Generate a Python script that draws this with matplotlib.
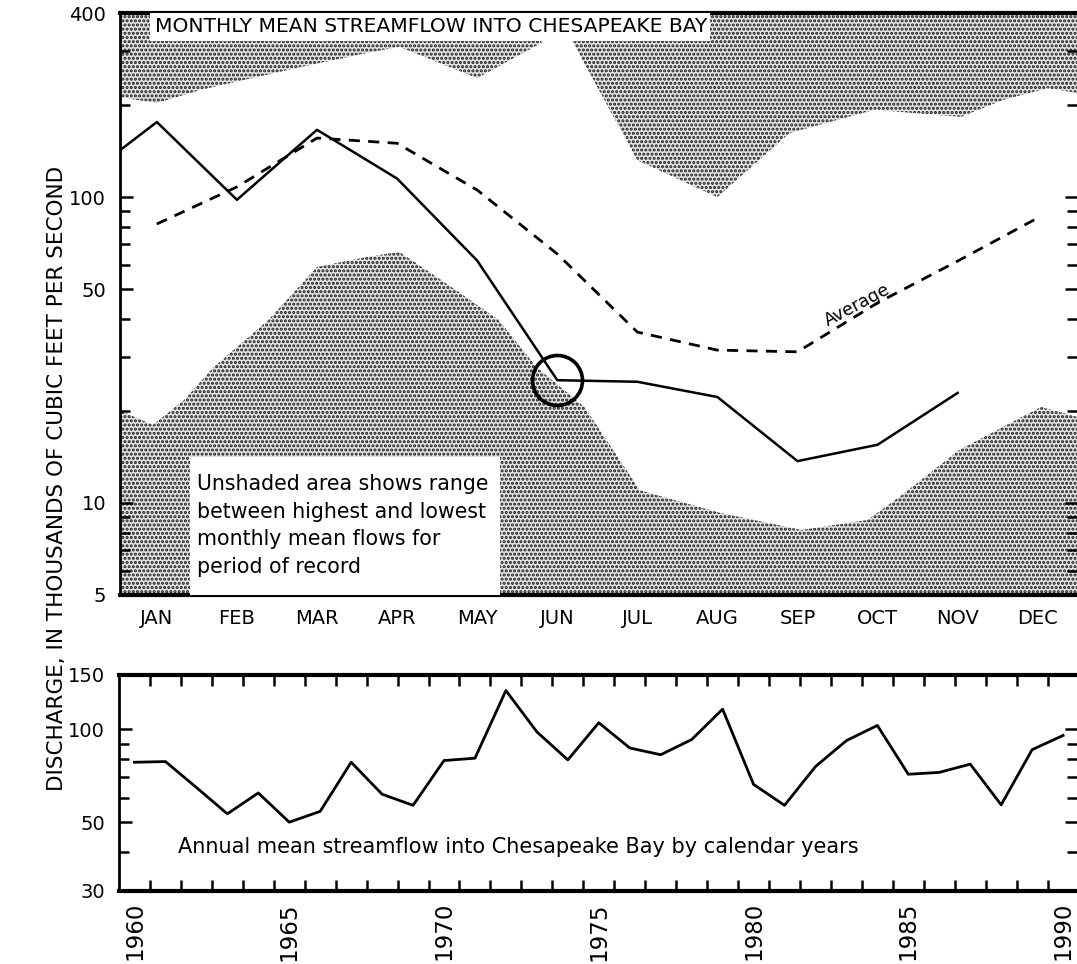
import numpy as np
import matplotlib
matplotlib.use("Agg")
import matplotlib.pyplot as plt
from matplotlib.patches import Rectangle
from matplotlib.ticker import LogLocator, FixedLocator, NullFormatter, FixedFormatter

# monthly data (month index 0 = JAN)
months = ['JAN', 'FEB', 'MAR', 'APR', 'MAY', 'JUN', 'JUL', 'AUG', 'SEP', 'OCT', 'NOV', 'DEC']
flow_x = [-0.45, 0, 1, 2, 3, 4, 5, 6, 7, 8, 9, 10]
flow_y = [143, 176, 98, 166, 115, 62, 25.2, 24.9, 22.2, 13.7, 15.5, 22.9]
avg_x = [0, 1, 2, 3, 4, 5, 6, 7, 8, 9, 10, 11]
avg_y = [81.7, 108, 156, 150, 105.5, 65.2, 36.2, 31.6, 31.2, 45.1, 61.8, 85.5]

# highest monthly mean flow (top of unshaded range)
hi_x = [-0.45, 0, 0.54, 1.79, 2.62, 3.03, 4.0, 4.8, 5.03, 5.2, 6.0, 7.0, 7.9, 8.96, 10.04, 10.57, 11.12, 11.5]
hi_y = [212, 203, 224, 266, 296, 310, 245, 319, 480, 319, 132, 100, 162, 193, 183, 208, 227, 219]
# lowest monthly mean flow (bottom of unshaded range)
lo_x = [-0.47, -0.05, 0.34, 0.71, 1.39, 2.0, 2.62, 3.03, 3.68, 4.27, 4.74, 5.34, 6.03, 7.04, 8.05, 8.88, 9.34, 10.02, 11.04, 11.5]
lo_y = [20.1, 18.0, 21.7, 27.8, 39.6, 59.1, 63.7, 66.2, 50.8, 39.6, 27.8, 20.6, 11.0, 9.27, 8.16, 8.8, 10.8, 14.9, 20.6, 19.1]

# annual mean streamflow
years = list(range(1960, 1991))
annual = [78.3, 78.7, 64.9, 53.3, 62.3, 50.1, 54.3, 78.3, 61.7, 56.8,
          79.3, 80.7, 133.6, 98.2, 79.7, 105.1, 87.1, 82.8, 92.7, 116.3,
          66.4, 56.8, 75.8, 92.0, 103, 71.6, 72.6, 77.2, 57.0, 86.0, 95.6]

plt.rcParams['font.family'] = 'DejaVu Sans'
plt.rcParams['hatch.linewidth'] = 1.5
plt.rcParams['hatch.color'] = '#1a1a1a'

fig = plt.figure(figsize=(10.77, 9.64), dpi=100)
W, H = 1077, 964
ax1 = fig.add_axes([120 / W, 1 - 595 / H, 957 / W, 582 / H])
ax2 = fig.add_axes([119 / W, 1 - 891 / H, 958 / W, 216 / H])

# ---- top panel
ax1.set_yscale('log')
ax1.set_ylim(5, 400)
ax1.set_xlim(-0.46, 11.49)

shade = dict(facecolor='#e4e4e4', edgecolor='#1a1a1a', hatch='....', linewidth=0, zorder=1)
ax1.fill_between(hi_x, hi_y, 1000, **shade)
ax1.fill_between(lo_x, 1, lo_y, **shade)

ax1.plot(flow_x, flow_y, color='black', lw=1.8, zorder=4)
ax1.plot(avg_x, avg_y, color='black', lw=2.0, ls=(0, (4, 3)), zorder=4)
ax1.plot([flow_x[6]], [flow_y[6]], 'o', ms=36, mfc='none', mec='black', mew=2.6, zorder=5)

ax1.text(8.75, 44.4, 'Average', rotation=28, ha='center', va='center', fontsize=12.5, zorder=6)

# title box
ax1.add_patch(Rectangle((0.031, 0.952), 0.585, 0.05, transform=ax1.transAxes,
                        facecolor='white', edgecolor='none', zorder=3))
ax1.text(0.037, 0.977, 'MONTHLY MEAN STREAMFLOW INTO CHESAPEAKE BAY', transform=ax1.transAxes,
         ha='left', va='center', fontsize=14.6, zorder=6)

# note box
ax1.add_patch(Rectangle((0.073, 0.0), 0.324, 0.237, transform=ax1.transAxes,
                        facecolor='white', edgecolor='none', zorder=3))
ax1.text(0.08, 0.208, 'Unshaded area shows range\nbetween highest and lowest\nmonthly mean flows for\nperiod of record',
         transform=ax1.transAxes, ha='left', va='top', fontsize=14.8, linespacing=1.48, zorder=6)

ax1.set_xticks(range(12))
ax1.set_xticklabels(months, fontsize=14)
ax1.tick_params(axis='x', length=0, pad=10)
ax1.yaxis.set_major_locator(FixedLocator([5, 10, 50, 100, 400]))
ax1.yaxis.set_major_formatter(FixedFormatter(['5', '10', '50', '100', '400']))
ax1.yaxis.set_minor_locator(LogLocator(base=10, subs=np.arange(2, 10)))
ax1.yaxis.set_minor_formatter(NullFormatter())
ax1.tick_params(axis='y', which='both', direction='in', left=True, right=True, labelsize=14, pad=10)
ax1.tick_params(axis='y', which='major', length=9, width=1.8)
ax1.tick_params(axis='y', which='minor', length=7, width=1.8)
ax1.spines['right'].set_visible(False)
ax1.spines['top'].set_linewidth(3)
ax1.spines['bottom'].set_linewidth(3)
ax1.spines['left'].set_linewidth(2)

# ---- bottom panel
ax2.set_yscale('log')
ax2.set_ylim(30, 150)
ax2.set_xlim(1959.5, 1990.45)
ax2.plot(years, annual, color='black', lw=2.0)
ax2.text(1961.4, 41.5, 'Annual mean streamflow into Chesapeake Bay by calendar years',
         ha='left', va='center', fontsize=15)

ax2.yaxis.set_major_locator(FixedLocator([30, 50, 100, 150]))
ax2.yaxis.set_major_formatter(FixedFormatter(['30', '50', '100', '150']))
ax2.yaxis.set_minor_locator(FixedLocator([40, 60, 70, 80, 90]))
ax2.yaxis.set_minor_formatter(NullFormatter())
ax2.tick_params(axis='y', which='both', direction='in', left=True, right=True, labelsize=14, pad=10)
ax2.tick_params(axis='y', which='major', length=9, width=1.8)
ax2.tick_params(axis='y', which='minor', length=7, width=1.8)

ax2.xaxis.set_major_locator(FixedLocator(list(range(1960, 1991, 5))))
ax2.xaxis.set_minor_locator(FixedLocator([y + 0.5 for y in range(1960, 1990)]))
ax2.tick_params(axis='x', which='major', length=0, labelsize=16.5, labelrotation=90, pad=8)
ax2.tick_params(axis='x', which='minor', direction='in', top=True, bottom=True, length=8, width=1.8)
ax2.spines['right'].set_visible(False)
ax2.spines['top'].set_linewidth(3)
ax2.spines['bottom'].set_linewidth(3)
ax2.spines['left'].set_linewidth(2)

fig.text(57 / W, 1 - 478 / H, 'DISCHARGE, IN THOUSANDS OF CUBIC FEET PER SECOND',
         rotation=90, ha='center', va='center', fontsize=15.5)

fig.savefig('out.png', dpi=100)
